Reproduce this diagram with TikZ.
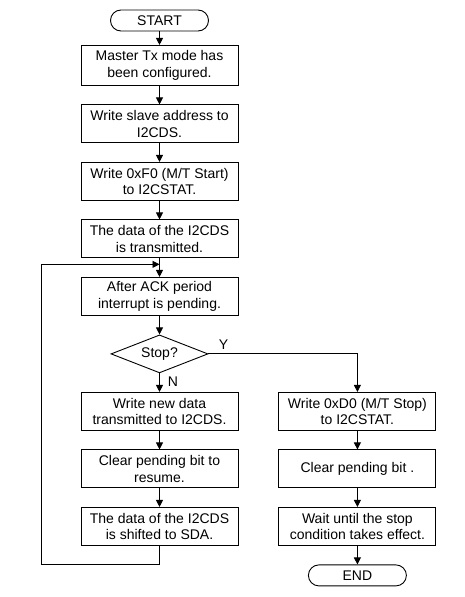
\documentclass[tikz,border=0pt]{standalone}
\usepackage{fontspec}
\setmainfont{Liberation Sans}
\usetikzlibrary{positioning}
\usetikzlibrary{arrows.meta}
\usetikzlibrary{shapes.geometric}

\begin{document}
\begin{tikzpicture}[node distance=18.6pt, line width=0.9pt,
  every node/.style={font=\fontsize{14}{16.5}\selectfont},
  box/.style={draw, rectangle, align=center, minimum width=157pt, minimum height=38pt, inner sep=0pt},
  term/.style={draw, rectangle, rounded corners=10.5pt, minimum width=98pt, minimum height=21pt, inner sep=0pt},
  decide/.style={draw, diamond, shape aspect=2.55, minimum width=97pt, minimum height=38pt, inner sep=0pt},
  flow/.style={-{Triangle[length=7pt, width=7pt]}}]
  \useasboundingbox (0,0) rectangle (464pt,-597pt);
  % main column
  \node[term] (start) at (159.5pt,-20.5pt) {START};
  \node[box, minimum height=40pt, below=13.5pt of start] (cfg) {Master Tx mode has\\been configured.};
  \node[box, below=of cfg] (addr) {Write slave address to\\I2CDS.};
  \node[box, below=of addr] (mstart) {Write 0xF0 (M/T Start)\\to I2CSTAT.};
  \node[box, below=of mstart] (sent) {The data of the I2CDS\\is transmitted.};
  \node[box, below=of sent] (ack) {After ACK period\\interrupt is pending.};
  \node[decide, below=of ack] (stop) {Stop?};
  % N branch
  \node[box, below=of stop] (wdata) {Write new data\\transmitted to I2CDS.};
  \node[box, below=of wdata] (clr) {Clear pending bit to\\resume.};
  \node[box, below=of clr] (shift) {The data of the I2CDS\\is shifted to SDA.};
  % Y branch
  \node[box, right=40pt of wdata] (mstop) {Write 0xD0 (M/T Stop)\\to I2CSTAT.};
  \node[box, below=of mstop] (clr2) {Clear pending bit .};
  \node[box, below=of clr2] (wait) {Wait until the stop\\condition takes effect.};
  \node[term, below=of wait] (end) {END};
  \node[anchor=south west, inner sep=1pt] (yes) at ([xshift=9pt, yshift=3pt]stop.east) {Y};
  \node[anchor=north west, inner sep=1pt] (no) at ([xshift=7pt, yshift=-2pt]stop.south) {N};
  \coordinate[below=6pt of sent.south] (back);

  \draw[flow] (start) -- (cfg);
  \draw[flow] (cfg) -- (addr);
  \draw[flow] (addr) -- (mstart);
  \draw[flow] (mstart) -- (sent);
  \draw[flow] (sent) -- (ack);
  \draw[flow] (ack) -- (stop);
  \draw[flow] (stop) -- (wdata);
  \draw[flow] (wdata) -- (clr);
  \draw[flow] (clr) -- (shift);
  \draw[flow] (shift.south) -- ++(0,-19pt) -| ([xshift=-118pt]back) -- (back);
  \draw[flow] (stop.east) -| (mstop.north);
  \draw[flow] (mstop) -- (clr2);
  \draw[flow] (clr2) -- (wait);
  \draw[flow] (wait) -- (end);
\end{tikzpicture}
\end{document}
